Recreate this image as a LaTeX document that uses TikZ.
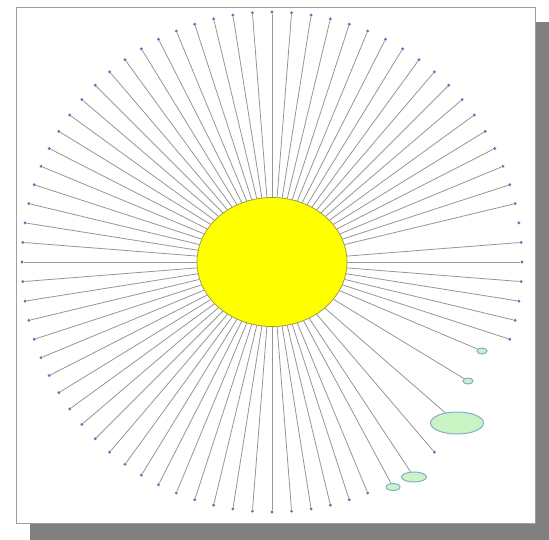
\documentclass[tikz,border=0pt]{standalone}
\usetikzlibrary{shapes.geometric}
\definecolor{raygray}{RGB}{150,150,150}
\definecolor{dotblue}{RGB}{110,110,190}
\definecolor{sunfill}{RGB}{255,255,0}
\definecolor{sunedge}{RGB}{150,150,60}
\definecolor{blobfill}{RGB}{200,245,195}
\definecolor{blobedge}{RGB}{135,170,205}
\definecolor{shadowgray}{RGB}{128,128,128}
\tikzset{
  frame/.style={draw=gray!75,fill=white,line width=1pt},
  sun/.style={ellipse,draw=sunedge,fill=sunfill,minimum width=150pt,
              minimum height=129pt,inner sep=0pt,line width=0.7pt},
  leaf/.style={circle,fill=dotblue,inner sep=0pt,minimum size=3.2pt},
  blob/.style={ellipse,draw=blobedge,fill=blobfill,inner sep=0pt,line width=1pt},
  ray/.style={draw=raygray,line width=0.8pt},
}
\begin{document}
\begin{tikzpicture}[x=1pt,y=-1pt]
    \useasboundingbox (0,0) rectangle (549,540);
    \fill[shadowgray] (30,22) rectangle (549,540);
    \draw[frame] (16,8) rectangle (535,523);
    \node[sun] (sun) at (272,262) {};
    % outer ring of leaves
    \foreach \k in {0,1,2,3,4,11,15,16,...,79}
      \node[leaf] (d\k) at ([shift={(4.5*\k:250)}]272,262) {};
    \foreach \k in {0,1,2,3,4,11,15,16,...,77,79}
      \draw[ray] (sun) -- (d\k);
    % the odd ones
    \node[blob,minimum width=10pt,minimum height=6pt] (b1) at (482,351) {};
    \node[blob,minimum width=10pt,minimum height=6pt] (b2) at (468,381) {};
    \node[blob,minimum width=53pt,minimum height=22pt] (b3) at (457,423) {};
    \node[blob,minimum width=25pt,minimum height=10pt] (b4) at (414,477) {};
    \node[blob,minimum width=14pt,minimum height=7pt] (b5) at (393,487) {};
    \foreach \b in {b1,b2,b3,b4,b5}
      \draw[ray] (sun) -- (\b);
  \end{tikzpicture}
\end{document}
